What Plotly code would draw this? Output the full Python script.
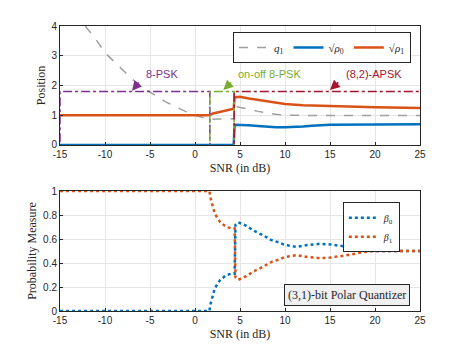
import plotly.graph_objects as go
from plotly.subplots import make_subplots

# Top panel: optimized quantizer positions vs SNR
q1_snr = [-12.2, -11, -10, -9, -8, -7, -6, -5, -4, -3, -2, -1, 0, 1, 1.6,
          2.5, 3.5, 4.3, 4.4, 5, 6, 7, 8, 9, 10, 12, 15, 20, 25]
q1_val = [4.0, 3.55, 3.1, 2.8, 2.5, 2.22, 1.98, 1.78, 1.58, 1.41, 1.26, 1.12, 1.0, 0.9, 0.86,
          0.87, 0.87, 0.88, 1.3, 1.27, 1.2, 1.13, 1.07, 1.03, 1.0, 0.99, 0.99, 0.99, 0.99]

rho0_snr = [-15, 4.3, 4.4, 5, 6, 7, 8, 9, 10, 11, 12, 13, 15, 20, 25]
rho0_val = [0, 0, 0.68, 0.68, 0.66, 0.64, 0.61, 0.6, 0.6, 0.6, 0.62, 0.65, 0.68, 0.69, 0.7]

rho1_snr = [-15, 1.6, 2.0, 2.5, 3.0, 3.5, 4.0, 4.3, 4.4, 5, 6, 7, 8, 10, 12, 15, 20, 25]
rho1_val = [1.0, 1.0, 1.06, 1.1, 1.14, 1.17, 1.2, 1.22, 1.6, 1.62, 1.56, 1.51, 1.46, 1.38, 1.34, 1.31, 1.27, 1.24]

# Bottom panel: probability measures
beta_snr = [-15, 1.6, 1.7, 1.85, 2.2, 2.8, 3.5, 4.0, 4.4, 4.5, 4.8, 5.7, 6.5, 7.6, 8.5, 9.4,
            10, 11.3, 12.5, 13.9, 15, 16.5, 18, 18.7, 20, 25]
beta0 = [0, 0, 0.05, 0.10, 0.19, 0.26, 0.30, 0.31, 0.31, 0.72, 0.74, 0.71, 0.67, 0.63, 0.59, 0.57,
         0.55, 0.535, 0.55, 0.56, 0.555, 0.54, 0.52, 0.51, 0.5, 0.5]
beta1 = [1, 1, 0.95, 0.90, 0.81, 0.74, 0.70, 0.69, 0.69, 0.28, 0.26, 0.29, 0.33, 0.37, 0.41, 0.43,
         0.45, 0.465, 0.45, 0.44, 0.445, 0.46, 0.48, 0.49, 0.5, 0.5]

# Regions (SNR limits) and labels
regions = [(-15, 1.65, "8-PSK"), (1.65, 4.35, "on-off 8-PSK"), (4.35, 25.25, "(8,2)-APSK")]
region_top = 1.8
label_pos = [(-3.7, 2.38), (8.3, 2.38), (19.9, 2.38)]
arrow_head = [(-7.0, 1.82), (3.15, 1.85), (15.0, 1.85)]
arrow_tail = [(-6.1, 2.15), (4.2, 2.15), (16.1, 2.15)]

x_ticks = [-15, -10, -5, 0, 5, 10, 15, 20, 25]
x_labels = ["-15", "-10", "-5", "0", "5", "10", "15", "20", "25"]

blue = "#0072BD"
orange = "#D95319"
colors = ["#7E2F8E", "#77AC30", "#A2142F"]
axis_col = "#262626"
serif = "Liberation Serif, serif"
sans = "Liberation Sans, Arial"

fig = make_subplots(rows=2, cols=1)

fig.add_trace(go.Scatter(x=q1_snr, y=q1_val, mode="lines", name="<i>q</i><sub>1</sub>",
                         line=dict(color="#a0a0a0", width=1.5, dash="dash"), legend="legend"), row=1, col=1)
fig.add_trace(go.Scatter(x=rho0_snr, y=rho0_val, mode="lines", name="√<i>ρ</i><sub>0</sub>",
                         line=dict(color=blue, width=2.5), legend="legend"), row=1, col=1)
fig.add_trace(go.Scatter(x=rho1_snr, y=rho1_val, mode="lines", name="√<i>ρ</i><sub>1</sub>",
                         line=dict(color=orange, width=2.5), legend="legend"), row=1, col=1)

fig.add_trace(go.Scatter(x=beta_snr, y=beta0, mode="lines", name="<i>β</i><sub>0</sub>",
                         line=dict(color=blue, width=2.5, dash="dot"), legend="legend2"), row=2, col=1)
fig.add_trace(go.Scatter(x=beta_snr, y=beta1, mode="lines", name="<i>β</i><sub>1</sub>",
                         line=dict(color=orange, width=2.5, dash="dot"), legend="legend2"), row=2, col=1)

for (x0, x1, lab), c, (tx, ty), (hx, hy), (ax, ay) in zip(regions, colors, label_pos, arrow_head, arrow_tail):
    fig.add_shape(type="rect", x0=x0, x1=x1, y0=-0.03, y1=region_top, xref="x", yref="y",
                  line=dict(color=c, width=1.5, dash="dashdot"))
    fig.add_annotation(x=tx, y=ty, xref="x", yref="y", text=lab, showarrow=False,
                       font=dict(family=sans, size=11, color=c))
    fig.add_annotation(x=hx, y=hy, ax=ax, ay=ay, xref="x", yref="y", axref="x", ayref="y",
                       text="", showarrow=True, arrowhead=2, arrowsize=1.3, arrowwidth=1.5, arrowcolor=c)

fig.add_annotation(x=0.797, y=0.056, xref="paper", yref="paper", xanchor="center", yanchor="middle",
                   text="(3,1)-bit Polar Quantizer", showarrow=False,
                   bgcolor="#f0f0f0", bordercolor=axis_col, borderwidth=1, borderpad=3,
                   font=dict(family=serif, size=12, color=axis_col))

axis_common = dict(showline=True, mirror=True, linecolor=axis_col, linewidth=1,
                   ticks="inside", ticklen=3, tickcolor=axis_col,
                   showgrid=True, gridcolor="#e6e6e6", zeroline=False,
                   tickfont=dict(family=sans, size=10, color=axis_col))

fig.update_xaxes(range=[-15, 25], tickvals=x_ticks, ticktext=x_labels, domain=[0, 1],
                 title=dict(text="SNR (in dB)", standoff=4, font=dict(family=serif, size=12, color=axis_col)),
                 **axis_common)
fig.update_yaxes(**axis_common)
fig.update_yaxes(range=[0, 4], tickvals=[0, 1, 2, 3, 4], domain=[0.5825, 1], row=1, col=1,
                 title=dict(text="Position", standoff=3, font=dict(family=serif, size=12, color=axis_col)))
fig.update_yaxes(range=[0, 1], tickvals=[0, 0.2, 0.4, 0.6, 0.8, 1],
                 ticktext=["0", "0.2", "0.4", "0.6", "0.8", "1"], domain=[0, 0.421], row=2, col=1,
                 title=dict(text="Probability Measure", standoff=3,
                            font=dict(family=serif, size=12, color=axis_col)))

legend_font = dict(family=serif, size=11, color=axis_col)
# page body has an 8px margin, so the figure is shrunk by 8px and margins shifted
fig.update_layout(
    width=457, height=341,
    margin=dict(l=52, r=45, t=18, b=38),
    paper_bgcolor="white", plot_bgcolor="white",
    legend=dict(orientation="h", x=0.975, y=0.979, xanchor="right", yanchor="top",
                bgcolor="white", bordercolor=axis_col, borderwidth=1, font=legend_font,
                itemwidth=30, tracegroupgap=0),
    legend2=dict(x=0.944, y=0.382, xanchor="right", yanchor="top",
                 bgcolor="white", bordercolor=axis_col, borderwidth=1,
                 font=dict(family=serif, size=10, color=axis_col),
                 itemwidth=30, tracegroupgap=0),
)

fig.write_html("out.html")
